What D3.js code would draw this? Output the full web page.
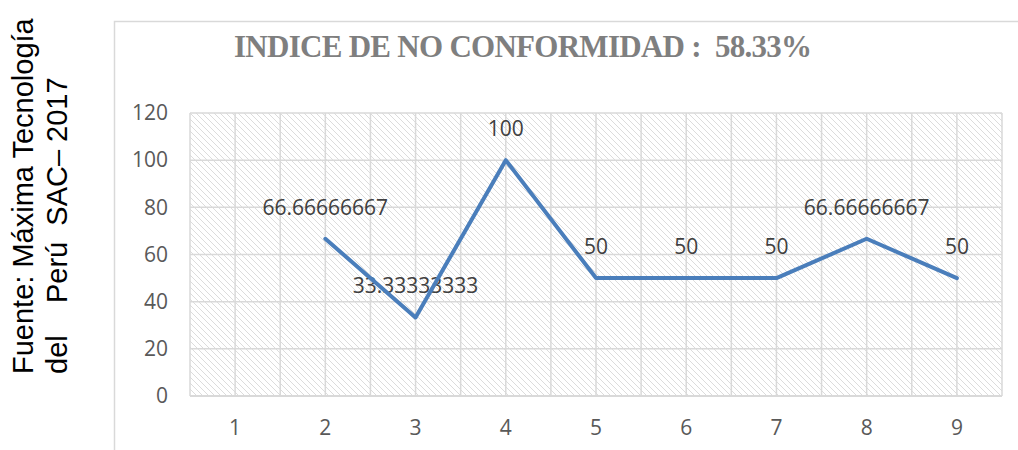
<!DOCTYPE html>
<html>
<head>
<meta charset="utf-8">
<script src="https://cdn.jsdelivr.net/npm/d3@7"></script>
<style>
  body { margin: 0; background: #fff; }
  svg { display: block; }
</style>
</head>
<body>
<svg id="chart" width="1018" height="450"></svg>
<script>
// data
var categories = ["1", "2", "3", "4", "5", "6", "7", "8", "9"];
var values = [null, 66.66666667, 33.33333333, 100, 50, 50, 50, 66.66666667, 50];
var yTicks = [0, 20, 40, 60, 80, 100, 120];
var titleText = "INDICE DE NO CONFORMIDAD :  58.33%";
var sourceLines = ["Fuente: Máxima Tecnología", "del    Perú  SAC– 2017"];

var margin = {top: 113, right: 16, bottom: 54, left: 190},
    width = 1018 - margin.left - margin.right,
    height = 450 - margin.top - margin.bottom;

var svg = d3.select("#chart");

// hatch fill for the plot area
var defs = svg.append("defs");
var pat = defs.append("pattern")
    .attr("id", "hatch")
    .attr("patternUnits", "userSpaceOnUse")
    .attr("width", 6)
    .attr("height", 6);
pat.append("rect").attr("width", 6).attr("height", 6).attr("fill", "#fff");
pat.append("path")
    .attr("d", "M-1,-1 L7,7 M-1,5 L1,7 M5,-1 L7,1")
    .attr("stroke", "#dcdcdc")
    .attr("stroke-width", 1);

// chart frame
svg.append("rect")
    .attr("x", 114.5)
    .attr("y", 21.5)
    .attr("width", 1018)
    .attr("height", 500)
    .attr("fill", "none")
    .attr("stroke", "#d9d9d9")
    .attr("stroke-width", 1.5);

// source text on the left
svg.selectAll(".source")
    .data(sourceLines)
    .enter().append("text")
    .attr("class", "source")
    .attr("transform", function(d, i) { return "translate(" + (33 + i * 34) + ",374) rotate(-90)"; })
    .attr("xml:space", "preserve")
    .style("white-space", "pre")
    .attr("font-family", "Liberation Sans, Arial, sans-serif")
    .attr("font-size", "29px")
    .attr("fill", "#000")
    .text(function(d) { return d; });

// title
svg.append("text")
    .attr("x", 234)
    .attr("y", 57)
    .attr("xml:space", "preserve")
    .style("white-space", "pre")
    .attr("font-family", "Liberation Serif, serif")
    .attr("font-weight", "700")
    .attr("font-size", "31px")
    .attr("textLength", 578)
    .attr("fill", "#7f7f7f")
    .text(titleText);

var g = svg.append("g")
    .attr("transform", "translate(" + margin.left + "," + margin.top + ")");

var x = d3.scaleBand().domain(categories).range([0, width]),
    y = d3.scaleLinear().domain([0, 120]).range([height, 0]);

g.append("rect")
    .attr("width", width)
    .attr("height", height)
    .attr("fill", "url(#hatch)");

// vertical gridlines at band edges and band centres
var vLines = [];
categories.forEach(function(c) {
  vLines.push(x(c));
  vLines.push(x(c) + x.bandwidth() / 2);
});
vLines.push(width);

g.selectAll(".vgrid")
    .data(vLines)
    .enter().append("line")
    .attr("class", "vgrid")
    .attr("x1", function(d) { return d; })
    .attr("x2", function(d) { return d; })
    .attr("y1", 0)
    .attr("y2", height)
    .attr("stroke", "#d9d9d9")
    .attr("stroke-width", 1.5);

g.selectAll(".hgrid")
    .data(yTicks)
    .enter().append("line")
    .attr("class", "hgrid")
    .attr("x1", 0)
    .attr("x2", width)
    .attr("y1", function(d) { return y(d); })
    .attr("y2", function(d) { return y(d); })
    .attr("stroke", "#d9d9d9")
    .attr("stroke-width", function(d) { return d === 0 ? 2 : 1.5; });

// axes (labels only, Excel style)
var yAxis = d3.axisLeft(y).tickValues(yTicks).tickSize(0).tickPadding(22);
var xAxis = d3.axisBottom(x).tickSize(0).tickPadding(24);

g.append("g")
    .attr("class", "yaxis")
    .call(yAxis)
    .call(function(s) { s.select(".domain").remove(); })
    .selectAll("text")
    .attr("font-family", "Open Sans, sans-serif")
    .attr("font-size", "21px")
    .attr("fill", "#595959");

g.append("g")
    .attr("class", "xaxis")
    .attr("transform", "translate(0," + height + ")")
    .call(xAxis)
    .call(function(s) { s.select(".domain").remove(); })
    .selectAll("text")
    .attr("font-family", "Open Sans, sans-serif")
    .attr("font-size", "21px")
    .attr("fill", "#595959");

var points = categories.map(function(c, i) { return {cat: c, value: values[i]}; });

// data labels (drawn under the line, as in the picture)
g.selectAll(".dlabel")
    .data(points.filter(function(d) { return d.value != null; }))
    .enter().append("text")
    .attr("class", "dlabel")
    .attr("x", function(d) { return x(d.cat) + x.bandwidth() / 2; })
    .attr("y", function(d) { return y(d.value) - 24; })
    .attr("text-anchor", "middle")
    .attr("font-family", "Open Sans, sans-serif")
    .attr("font-size", "21px")
    .attr("fill", "#404040")
    .text(function(d) { return String(d.value); });

var line = d3.line()
    .defined(function(d) { return d.value != null; })
    .x(function(d) { return x(d.cat) + x.bandwidth() / 2; })
    .y(function(d) { return y(d.value); });

g.append("path")
    .datum(points)
    .attr("d", line)
    .attr("fill", "none")
    .attr("stroke", "#4a7ebb")
    .attr("stroke-width", 4)
    .attr("stroke-linejoin", "round")
    .attr("stroke-linecap", "round");
</script>
</body>
</html>
